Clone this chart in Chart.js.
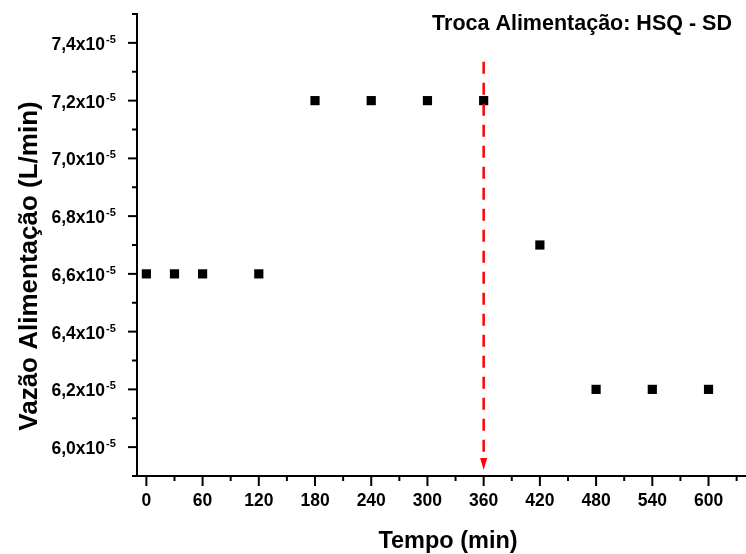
<!DOCTYPE html>
<html>
<head>
<meta charset="utf-8">
<script src="https://cdn.jsdelivr.net/npm/chart.js@4.4.1/dist/chart.umd.min.js"></script>
<style>
  html, body { margin: 0; padding: 0; background: #fff; overflow: hidden; }
  canvas { display: block; }
</style>
</head>
<body>
<canvas id="flowChart" width="746" height="554"></canvas>
<script>
// values
const timeMin = [0, 30, 60, 120, 180, 240, 300, 360, 420, 480, 540, 600];
const flowRate = [6.6e-5, 6.6e-5, 6.6e-5, 6.6e-5, 7.2e-5, 7.2e-5, 7.2e-5, 7.2e-5, 6.7e-5, 6.2e-5, 6.2e-5, 6.2e-5];

// axis ticks
const xTicks = [0, 60, 120, 180, 240, 300, 360, 420, 480, 540, 600];
const xMinorTicks = [30, 90, 150, 210, 270, 330, 390, 450, 510, 570, 630];
const yTicks = [6.0e-5, 6.2e-5, 6.4e-5, 6.6e-5, 6.8e-5, 7.0e-5, 7.2e-5, 7.4e-5];
const yMinorTicks = [5.9e-5, 6.1e-5, 6.3e-5, 6.5e-5, 6.7e-5, 6.9e-5, 7.1e-5, 7.3e-5, 7.5e-5];

// feed switch marker (red dashed arrow)
const switchTime = 360;
const switchRange = [7.335e-5, 5.921e-5];

const chartTitle = 'Troca Alimentação: HSQ - SD';
const xTitle = 'Tempo (min)';
const yTitle = 'Vazão Alimentação (L/min)';

const FONT = "'Liberation Sans', Arial, Helvetica, sans-serif";

// the x axis runs to the right edge of the picture
const stretchX = {
  id: 'stretchX',
  afterLayout(chart) {
    const x = chart.scales.x;
    chart.chartArea.right = chart.width;
    chart.chartArea.width = chart.width - chart.chartArea.left;
    x.right = chart.width;
    x.width = x.right - x.left;
    x.configure();
  }
};

// draws ticks, y labels with exponent, titles and the arrow
const decorations = {
  id: 'decorations',
  afterDatasetsDraw(chart) {
    const { ctx, scales: { x, y } } = chart;
    const px = x.getPixelForValue(switchTime);
    const top = y.getPixelForValue(switchRange[0]);
    const tip = y.getPixelForValue(switchRange[1]);
    const head = 12;
    ctx.save();
    ctx.strokeStyle = '#ff0000';
    ctx.fillStyle = '#ff0000';
    ctx.lineWidth = 2.5;
    ctx.setLineDash([12, 9]);
    ctx.beginPath();
    ctx.moveTo(px, top);
    ctx.lineTo(px, tip - head);
    ctx.stroke();
    ctx.setLineDash([]);
    ctx.beginPath();
    ctx.moveTo(px - 3.5, tip - head);
    ctx.lineTo(px + 3.5, tip - head);
    ctx.lineTo(px, tip);
    ctx.closePath();
    ctx.fill();
    ctx.restore();
  },
  afterDraw(chart) {
    const { ctx, chartArea: area, scales: { x, y } } = chart;
    ctx.save();
    ctx.strokeStyle = '#000';
    ctx.fillStyle = '#000';
    ctx.lineWidth = 2;

    const tick = (x1, y1, x2, y2) => {
      ctx.beginPath();
      ctx.moveTo(x1, y1);
      ctx.lineTo(x2, y2);
      ctx.stroke();
    };
    xTicks.forEach(v => { const p = x.getPixelForValue(v); tick(p, area.bottom, p, area.bottom + 10); });
    xMinorTicks.forEach(v => { const p = x.getPixelForValue(v); tick(p, area.bottom, p, area.bottom + 5); });
    yTicks.forEach(v => { const p = y.getPixelForValue(v); tick(area.left, p, area.left - 9, p); });
    yMinorTicks.forEach(v => { const p = y.getPixelForValue(v); tick(area.left, p, area.left - 5, p); });
    // little overhang of x axis at the corner
    tick(area.left - 4, area.bottom, area.left, area.bottom);

    // y labels like 7,4x10^-5
    yTicks.forEach(v => {
      const p = y.getPixelForValue(v);
      const txt = (v * 1e5).toFixed(1).replace('.', ',') + 'x10';
      ctx.font = 'bold 17.5px ' + FONT;
      ctx.textAlign = 'right';
      ctx.textBaseline = 'alphabetic';
      ctx.fillText(txt, area.left - 32, p + 7);
      ctx.font = 'bold 11px ' + FONT;
      ctx.textAlign = 'left';
      ctx.fillText('-5', area.left - 31, p);
    });

    // chart title
    ctx.font = 'bold 21.5px ' + FONT;
    ctx.textAlign = 'center';
    ctx.textBaseline = 'alphabetic';
    ctx.fillText(chartTitle, 582, 30);

    // x axis title
    ctx.font = 'bold 23.5px ' + FONT;
    ctx.fillText(xTitle, 448, 548);

    // y axis title
    ctx.font = 'bold 26px ' + FONT;
    ctx.translate(37, 266);
    ctx.rotate(-Math.PI / 2);
    ctx.textAlign = 'center';
    ctx.fillText(yTitle, 0, 0);
    ctx.restore();
  }
};

new Chart(document.getElementById('flowChart'), {
  type: 'scatter',
  data: {
    datasets: [{
      label: 'Vazão',
      data: timeMin.map((t, i) => ({ x: t, y: flowRate[i] })),
      pointStyle: 'rect',
      pointRadius: 6.5,
      pointHoverRadius: 6.5,
      backgroundColor: '#000',
      borderWidth: 0,
    }],
  },
  options: {
    responsive: false,
    animation: false,
    layout: { padding: { top: 14, left: 0, right: 0, bottom: 0 } },
    plugins: {
      legend: { display: false },
      tooltip: { enabled: false },
    },
    scales: {
      x: {
        type: 'linear',
        min: -10,
        max: 640,
        afterBuildTicks: s => { s.ticks = xTicks.map(v => ({ value: v })); },
        afterFit: s => { s.height = 78; s.paddingLeft = 0; s.paddingRight = 0; },
        grid: { display: false },
        border: { display: true, color: '#000', width: 2 },
        ticks: {
          color: '#000',
          font: { family: FONT, size: 17.5, weight: 'bold' },
          padding: 7,
          maxRotation: 0,
          autoSkip: false,
        },
      },
      y: {
        type: 'linear',
        min: 5.9e-5,
        max: 7.5e-5,
        afterBuildTicks: s => { s.ticks = yTicks.map(v => ({ value: v })); },
        afterFit: s => { s.width = 137; s.paddingTop = 0; s.paddingBottom = 0; },
        grid: { display: false },
        border: { display: true, color: '#000', width: 2 },
        ticks: { display: false },
      },
    },
  },
  plugins: [stretchX, decorations],
});
</script>
</body>
</html>
